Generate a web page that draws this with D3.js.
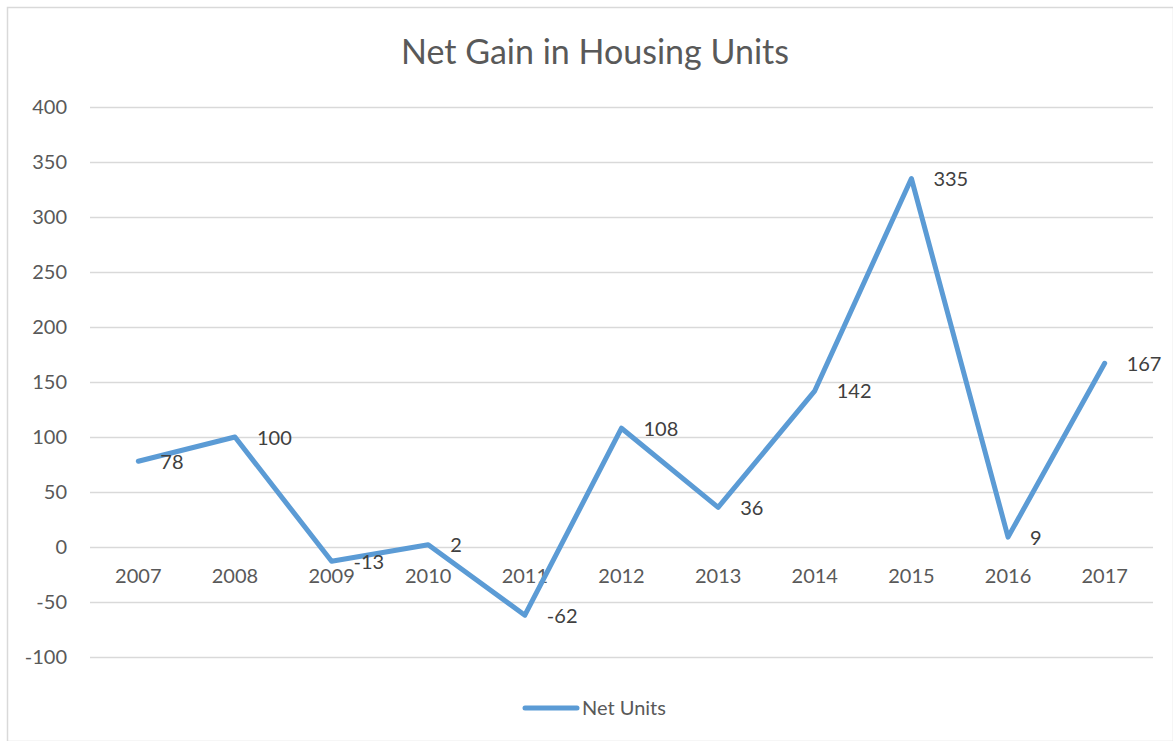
<!DOCTYPE html>
<html>
<head>
<meta charset="utf-8">
<script src="https://cdn.jsdelivr.net/npm/d3@7"></script>
<style>
  body { margin: 0; background: #fff; }
  text { font-family: Lato, "Open Sans", sans-serif; }
</style>
</head>
<body>
<div id="chart"></div>
<script>
// datos del gráfico
const years = ["2007", "2008", "2009", "2010", "2011", "2012", "2013", "2014", "2015", "2016", "2017"];
const netUnits = [78, 100, -13, 2, -62, 108, 36, 142, 335, 9, 167];
const yTicks = [-100, -50, 0, 50, 100, 150, 200, 250, 300, 350, 400];

const width = 1173, height = 741;
const lineColor = "#5B9BD5";

const svg = d3.select("#chart").append("svg")
    .attr("width", width)
    .attr("height", height);

// marco del área del gráfico
svg.append("rect")
    .attr("x", 7.5).attr("y", 7.5)
    .attr("width", width - 7).attr("height", height - 7)
    .attr("fill", "none")
    .attr("stroke", "#d9d9d9")
    .attr("stroke-width", 1.5);

const xScale = d3.scaleBand()
    .domain(years)
    .range([90, 1153]);

const yScale = d3.scaleLinear()
    .domain([-100, 400])
    .range([657, 107]);

// líneas de cuadrícula y etiquetas del eje Y
const yAxis = d3.axisLeft(yScale)
    .tickValues(yTicks)
    .tickFormat(d => String(d))
    .tickSize(-(1153 - 90))
    .tickPadding(23);

const gy = svg.append("g")
    .attr("transform", "translate(90,0)")
    .call(yAxis);
gy.select(".domain").remove();
gy.selectAll(".tick line").attr("stroke", "#d9d9d9").attr("stroke-width", 1.5);
gy.selectAll(".tick text")
    .attr("fill", "#595959")
    .style("font-size", "20px");

// etiquetas de categoría, cruzando en el cero
const xAxis = d3.axisBottom(xScale)
    .tickSize(0)
    .tickPadding(22);

const gx = svg.append("g")
    .attr("transform", `translate(0,${yScale(0)})`)
    .call(xAxis);
gx.select(".domain").remove();
gx.selectAll(".tick text")
    .attr("fill", "#595959")
    .style("font-size", "20px");

// título
svg.append("text")
    .attr("x", 595)
    .attr("y", 64)
    .attr("text-anchor", "middle")
    .attr("fill", "#595959")
    .style("font-size", "34px")
    .text("Net Gain in Housing Units");

// serie
const line = d3.line()
    .x((d, i) => xScale(years[i]) + xScale.bandwidth() / 2)
    .y(d => yScale(d));

svg.append("path")
    .datum(netUnits)
    .attr("fill", "none")
    .attr("stroke", lineColor)
    .attr("stroke-width", 5)
    .attr("stroke-linejoin", "round")
    .attr("stroke-linecap", "round")
    .attr("d", line);

// etiquetas de datos a la derecha
svg.selectAll("text.label")
    .data(netUnits)
    .enter()
    .append("text")
    .attr("class", "label")
    .attr("x", (d, i) => xScale(years[i]) + xScale.bandwidth() / 2 + 22)
    .attr("y", d => yScale(d))
    .attr("dy", "0.38em")
    .attr("fill", "#404040")
    .style("font-size", "20px")
    .text(d => d);

// leyenda
svg.append("line")
    .attr("x1", 525).attr("x2", 577)
    .attr("y1", 708).attr("y2", 708)
    .attr("stroke", lineColor)
    .attr("stroke-width", 5)
    .attr("stroke-linecap", "round");

svg.append("text")
    .attr("x", 582)
    .attr("y", 708)
    .attr("dy", "0.35em")
    .attr("fill", "#595959")
    .style("font-size", "20px")
    .text("Net Units");
</script>
</body>
</html>
